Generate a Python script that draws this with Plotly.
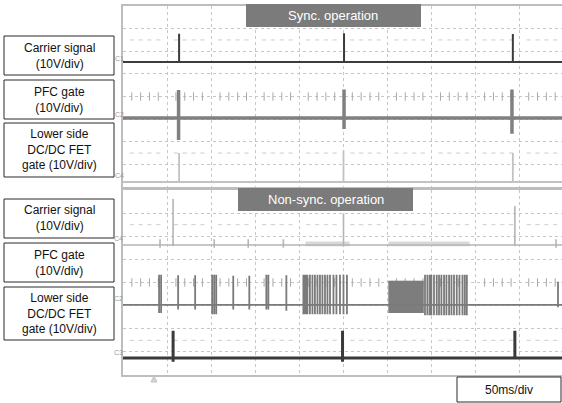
import plotly.graph_objects as go

W, H = 562, 403

# ---------------- data (time in ms, 50 ms/div ; amplitude in V, 10 V/div) ----------------
# Sync. operation
sync_carrier_ms = [63.6, 250.6, 442.0]
sync_carrier_peak_v = [12.5, 12.7, 12.4]
sync_pfc_ms = [63.0, 250.6, 441.0]
sync_pfc_peak_v = [12.4, 12.6, 12.6]
sync_pfc_dip_v = [9.7, 4.9, 7.0]
sync_lower_ms = [63.6, 250.0, 442.0]
sync_lower_peak_v = [12.8, 14.0, 12.8]

# Non-sync. operation
nons_carrier_ms = [56.8, 250.0, 444.3]
nons_carrier_peak_v = [19.9, 13.8, 16.9]
nons_carrier_glitch_ms = [42.0, 103.4, 142.0, 181.8, 491.0]
nons_carrier_fuzz_ms = [(207.0, 257.0), (301.0, 393.0)]

nons_pfc_ms = [40.9, 43.2, 62.5, 81.8, 101.1, 103.4, 105.7, 125.0, 143.2,
               162.5, 164.8, 185.2, 493.2]
nons_pfc_peak_v = [13.0, 13.0, 12.8, 12.8, 13.0, 13.0, 13.0, 12.6, 12.6,
                   13.0, 13.0, 12.8, 10.0]
nons_pfc_dip_v = [3.5, 3.5, 2.0, 2.0, 4.0, 4.0, 4.0, 2.0, 2.0,
                  2.0, 2.0, 2.5, 1.0]
nons_pfc_burst1_ms = [204.5, 205.7, 206.8, 208.0, 209.1, 211.9, 214.8, 217.6, 220.5,
                      223.3, 226.1, 229.0, 231.8, 234.7, 238.6, 242.0, 246.0, 250.0, 253.9]
nons_pfc_block_ms = (301.1, 340.9)
nons_pfc_block_peak_v = 10.4
nons_pfc_burst2_ms = [342.4, 345.1, 347.7, 349.6, 352.6, 355.7, 358.3, 361.0, 364.0,
                      366.7, 369.7, 372.4, 375.3, 378.4, 381.5, 384.9, 387.5, 389.8]

nons_lower_ms = [56.8, 248.9, 444.3]
nons_lower_peak_v = [11.7, 11.7, 11.7]
nons_lower_dip_v = [1.7, 1.7, 0.0]

channel_labels_top = ["C1", "C2", "C4"]
channel_labels_bottom = ["C4", "C2", "C3"]

# ---------------- layout helpers ----------------
X_END = 439 / 0.882           # visible time span (ms) of the screen capture
def px(p):
    return p / W
def py(p):
    return 1 - p / H

def pulse_xy(times, peaks, dips, base, x0=0.0, x1=X_END):
    xs, ys = [x0], [base]
    for t, a, d in sorted(zip(times, peaks, dips)):
        xs += [t, t, t, t]
        ys += [base, base + a, base - d, base]
    xs.append(x1)
    ys.append(base)
    return xs, ys

fig = go.Figure()

def add_line(xs, ys, color, width, panel):
    fig.add_trace(go.Scatter(x=xs, y=ys, mode="lines",
                             line=dict(color=color, width=width),
                             xaxis="x" if panel == 1 else "x2",
                             yaxis="y" if panel == 1 else "y2",
                             hoverinfo="skip", showlegend=False))

# graticule: minor ticks on center line and dash rows at +-2.5 div
minor_ms = [t for t in range(0, 500, 10) if t % 50 != 0]
for panel in (1, 2):
    xa = "x" if panel == 1 else "x2"
    ya = "y" if panel == 1 else "y2"
    fig.add_trace(go.Scatter(x=minor_ms, y=[0] * len(minor_ms), mode="markers",
                             marker=dict(symbol="line-ns", size=6,
                                         line=dict(width=1, color="#a8a8a8")),
                             xaxis=xa, yaxis=ya, hoverinfo="skip", showlegend=False))
    for lvl in (25, -25):
        fig.add_trace(go.Scatter(x=minor_ms, y=[lvl] * len(minor_ms), mode="markers",
                                 marker=dict(symbol="line-ew", size=3,
                                             line=dict(width=1, color="#cdcdcd")),
                                 xaxis=xa, yaxis=ya, hoverinfo="skip", showlegend=False))

# ---------------- Sync. operation (top) ----------------
B1, B2, B4 = 15.25, -9.5, -37.8
xs, ys = pulse_xy(sync_lower_ms, sync_lower_peak_v, [0] * 3, B4)
add_line(xs, ys, "#c2c2c2", 1.8, 1)
xs, ys = pulse_xy(sync_pfc_ms, sync_pfc_peak_v, sync_pfc_dip_v, B2)
add_line(xs, ys, "#808080", 3.5, 1)
xs, ys = pulse_xy(sync_carrier_ms, sync_carrier_peak_v, [0] * 3, B1)
add_line(xs, ys, "#3c3c3c", 2.0, 1)

# ---------------- Non-sync. operation (bottom) ----------------
N4, N2, N3 = 16.2, -9.7, -32.6
# carrier fuzz regions
for a, b in nons_carrier_fuzz_ms:
    fig.add_trace(go.Scatter(x=[a, a, b, b], y=[N4 - 0.5, N4 + 1.5, N4 + 1.5, N4 - 0.5],
                             fill="toself", fillcolor="#d8d8d8", mode="lines",
                             line=dict(width=0, color="#d8d8d8"),
                             xaxis="x2", yaxis="y2", hoverinfo="skip", showlegend=False))
c_times = nons_carrier_ms + nons_carrier_glitch_ms
c_peaks = nons_carrier_peak_v + [2.5] * len(nons_carrier_glitch_ms)
c_dips = [0.5] * len(nons_carrier_ms) + [1.2] * len(nons_carrier_glitch_ms)
xs, ys = pulse_xy(c_times, c_peaks, c_dips, N4)
add_line(xs, ys, "#b5b5b5", 1.6, 2)

# PFC
a, b = nons_pfc_block_ms
fig.add_trace(go.Scatter(x=[a, a, b, b], y=[N2 - 3.5, N2 + nons_pfc_block_peak_v,
                                             N2 + nons_pfc_block_peak_v, N2 - 3.5],
                         fill="toself", fillcolor="#7d7d7d", mode="lines",
                         line=dict(width=0.5, color="#7d7d7d"),
                         xaxis="x2", yaxis="y2", hoverinfo="skip", showlegend=False))
p_times = nons_pfc_ms + nons_pfc_burst1_ms + nons_pfc_burst2_ms
p_peaks = nons_pfc_peak_v + [13.0] * len(nons_pfc_burst1_ms) + [13.0] * len(nons_pfc_burst2_ms)
p_dips = nons_pfc_dip_v + [4.0] * len(nons_pfc_burst1_ms) + [4.5] * len(nons_pfc_burst2_ms)
xs, ys = pulse_xy(p_times, p_peaks, p_dips, N2)
add_line(xs, ys, "#7a7a7a", 1.8, 2)

# Lower side FET
xs, ys = pulse_xy(nons_lower_ms, nons_lower_peak_v, nons_lower_dip_v, N3)
add_line(xs, ys, "#3a3a3a", 3.0, 2)

# ---------------- axes ----------------
grid = dict(showgrid=True, gridcolor="#c6c6c6", griddash="dot", gridwidth=1,
            zeroline=False, showticklabels=False, ticks="")
xcommon = dict(range=[0, X_END], dtick=50, tick0=0, domain=[px(123), 1],
               showline=True, mirror=True, linecolor="#bdbdbd", linewidth=1.5, **grid)
ycommon = dict(range=[-40, 40], dtick=10, tick0=0,
               showline=True, mirror=False, linecolor="#bdbdbd", linewidth=1.5, **grid)

fig.update_layout(
    width=W, height=H, margin=dict(l=0, r=0, t=0, b=0),
    paper_bgcolor="white", plot_bgcolor="white",
    hovermode=False, showlegend=False,
    xaxis=dict(anchor="y", **xcommon),
    yaxis=dict(anchor="x", domain=[py(187), py(6)], **ycommon),
    xaxis2=dict(anchor="y2", **xcommon),
    yaxis2=dict(anchor="x2", domain=[py(375), py(190)], **ycommon),
)

# ---------------- annotations and boxes ----------------
shapes = []
annotations = []
FONT = "Liberation Sans, Arial, sans-serif"

label_boxes = [
    (36, 75, "Carrier signal<br>(10V/div)"),
    (80, 119, "PFC gate<br>(10V/div)"),
    (123, 177, "Lower side<br>DC/DC FET<br>gate (10V/div)"),
    (199, 238, "Carrier signal<br>(10V/div)"),
    (243, 282, "PFC gate<br>(10V/div)"),
    (287, 340, "Lower side<br>DC/DC FET<br>gate (10V/div)"),
]
for y0, y1, txt in label_boxes:
    shapes.append(dict(type="rect", xref="paper", yref="paper",
                       x0=px(4), x1=px(114), y0=py(y1), y1=py(y0),
                       line=dict(color="#2a2a2a", width=1), fillcolor="white"))
    annotations.append(dict(x=px(59), y=py((y0 + y1) / 2), xref="paper", yref="paper",
                            text=txt, showarrow=False, xanchor="center", yanchor="middle",
                            font=dict(family=FONT, size=12, color="#111")))

for x0, x1, y0, y1, txt in [(246, 421, 4, 27, "Sync. operation"),
                            (238, 413, 188, 211, "Non-sync. operation")]:
    shapes.append(dict(type="rect", xref="paper", yref="paper",
                       x0=px(x0), x1=px(x1), y0=py(y1), y1=py(y0),
                       line=dict(width=0), fillcolor="#7b7b7b"))
    annotations.append(dict(x=px((x0 + x1) / 2), y=py((y0 + y1) / 2), xref="paper", yref="paper",
                            text=txt, showarrow=False, xanchor="center", yanchor="middle",
                            font=dict(family=FONT, size=13, color="white")))

shapes.append(dict(type="rect", xref="paper", yref="paper",
                   x0=px(457), x1=px(561), y0=py(402), y1=py(377),
                   line=dict(color="#2a2a2a", width=1), fillcolor="white"))
annotations.append(dict(x=px(509), y=py(389.5), xref="paper", yref="paper",
                        text="50ms/div", showarrow=False, xanchor="center", yanchor="middle",
                        font=dict(family=FONT, size=12, color="#111")))

# trigger marker
shapes.append(dict(type="path", xref="paper", yref="paper",
                   path=f"M {px(151)} {py(382)} L {px(154)} {py(376)} L {px(157)} {py(382)} Z",
                   line=dict(color="#c4c4c4", width=1), fillcolor="#d4d4d4"))

# channel labels
for txt, yy in zip(channel_labels_top, [58, 114, 175]):
    annotations.append(dict(x=px(119), y=py(yy), xref="paper", yref="paper", text=txt,
                            showarrow=False, xanchor="center", yanchor="middle",
                            font=dict(family=FONT, size=7, color="#999")))
for txt, yy in zip(channel_labels_bottom, [238, 298, 352]):
    annotations.append(dict(x=px(118), y=py(yy), xref="paper", yref="paper", text=txt,
                            showarrow=False, xanchor="center", yanchor="middle",
                            font=dict(family=FONT, size=7, color="#999")))

fig.update_layout(shapes=shapes, annotations=annotations)
fig.write_html("out.html", config={"displayModeBar": False},
               post_script="document.body.style.margin='0';document.body.style.overflow='hidden';")
